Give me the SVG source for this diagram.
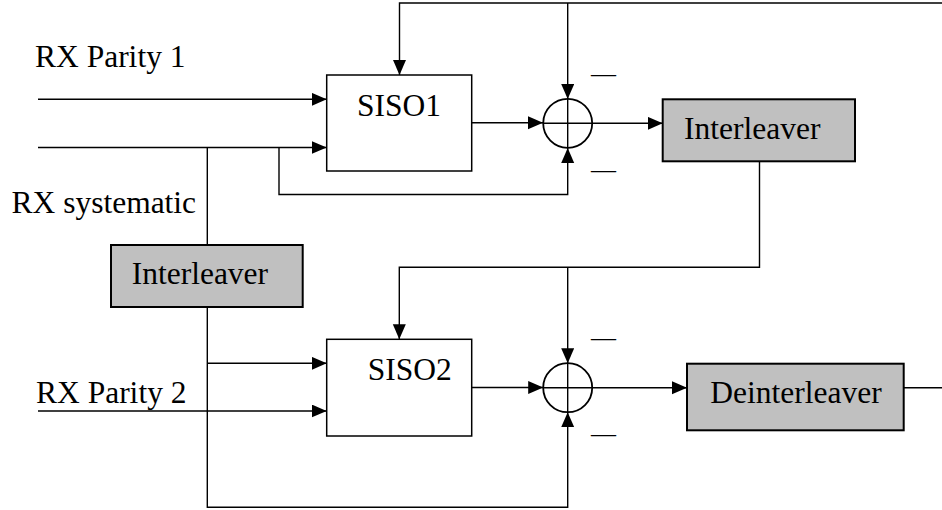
<svg xmlns="http://www.w3.org/2000/svg" width="942" height="510" viewBox="0 0 942 510">
<defs>
<marker id="arr" markerUnits="userSpaceOnUse" markerWidth="16" markerHeight="14" refX="15" refY="6.5" orient="auto">
<path d="M0,0 L15,6.5 L0,13 z" fill="#000"/>
</marker>
<style>
text{font-family:"Liberation Serif","Times New Roman",serif;font-size:31.5px;fill:#000}
.c{fill:none;stroke:#000;stroke-width:1.4}
.a{marker-end:url(#arr)}
.box{fill:#fff;stroke:#000;stroke-width:1.5}
.gbox{fill:#c0c0c0;stroke:#000;stroke-width:2}
.sum{fill:none;stroke:#000;stroke-width:1.8}
.m{font-size:25px}
</style>
</defs>
<rect width="942" height="510" fill="#fff"/>
<g id="connectors">
<path class="c a" d="M942,3 H399.5 V75"/>
<path class="c a" d="M567.7,3 V99"/>
<path class="c a" d="M38,99.3 H326.7"/>
<path class="c a" d="M38,147.5 H326.7"/>
<path class="c a" d="M279,147.5 V194.5 H567.7 V148"/>
<path class="c" d="M207.3,147.5 V245"/>
<path class="c a" d="M471.7,122.7 H543"/>
<path class="c a" d="M592.2,123.3 H662.7"/>
<path class="c a" d="M759.5,161.3 V267.3 H399.3 V339.3"/>
<path class="c a" d="M567.7,267.3 V363.3"/>
<path class="c a" d="M207.3,307 V507.3 H567.7 V412.2"/>
<path class="c a" d="M207.3,363.3 H326.7"/>
<path class="c a" d="M38,411 H326.7"/>
<path class="c a" d="M471.7,387.5 H543.2"/>
<path class="c a" d="M592.2,387.7 H687"/>
<path class="c" d="M903.7,387.7 H942"/>
</g>
<g id="label-rx-parity1"><text x="35" y="66.7">RX Parity 1</text></g>
<g id="label-rx-systematic"><text x="11.5" y="213">RX systematic</text></g>
<g id="label-rx-parity2"><text x="36" y="402.7">RX Parity 2</text></g>
<g id="siso1">
<rect class="box" x="326.7" y="75" width="145" height="96"/>
<text x="357" y="116">SISO1</text>
</g>
<g id="sum1">
<circle class="sum" cx="567.7" cy="123.3" r="24.5"/>
<path class="c" d="M567.7,98.8 V147.8 M543.2,123.3 H592.2"/>
<text class="m" x="591" y="81.5">—</text>
<text class="m" x="591" y="177.5">—</text>
</g>
<g id="interleaver1">
<rect class="gbox" x="662.7" y="99.3" width="192.3" height="62"/>
<text x="684" y="139.3">Interleaver</text>
</g>
<g id="interleaver2">
<rect class="gbox" x="111" y="245" width="191.7" height="62"/>
<text x="131.7" y="284.3">Interleaver</text>
</g>
<g id="siso2">
<rect class="box" x="326.7" y="339.3" width="145" height="96.7"/>
<text x="367.7" y="380">SISO2</text>
</g>
<g id="sum2">
<circle class="sum" cx="567.7" cy="387.7" r="24.5"/>
<path class="c" d="M567.7,363.2 V412.2 M543.2,387.7 H592.2"/>
<text class="m" x="591" y="345.8">—</text>
<text class="m" x="591" y="441.8">—</text>
</g>
<g id="deinterleaver">
<rect class="gbox" x="687" y="363.7" width="216.7" height="66.6"/>
<text x="710.3" y="403.3">Deinterleaver</text>
</g>
</svg>
